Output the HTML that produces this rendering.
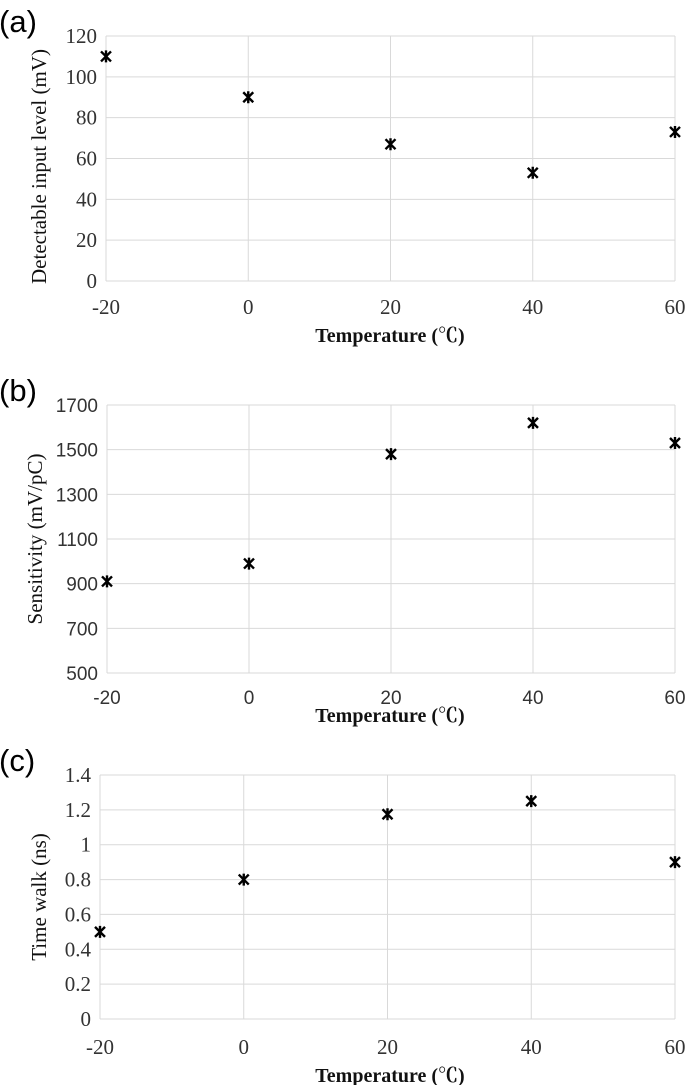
<!DOCTYPE html>
<html><head><meta charset="utf-8"><style>
body{margin:0;background:#fff;}
svg{display:block;}
.ser{font-family:"Liberation Serif","Noto Serif CJK SC",serif;}
.san{font-family:"Liberation Sans","Noto Sans CJK SC",sans-serif;}
</style></head><body>
<svg id="fig" width="685" height="1085" viewBox="0 0 685 1085" xmlns="http://www.w3.org/2000/svg"></svg>
<script>
const temps = [-20, 0, 20, 40, 60];
const xTicks = ["-20", "0", "20", "40", "60"];
const levelValues = [110, 90, 67, 53, 73];
const levelTicks = [0, 20, 40, 60, 80, 100, 120];
const sensValues = [910, 990, 1480, 1620, 1530];
const sensTicks = [500, 700, 900, 1100, 1300, 1500, 1700];
const walkValues = [0.5, 0.8, 1.175, 1.25, 0.9];
const walkTicks = [0, 0.2, 0.4, 0.6, 0.8, 1, 1.2, 1.4];

const NS = "http://www.w3.org/2000/svg";
const svg = document.getElementById("fig");
function mk(tag, attrs, parent) {
  const e = document.createElementNS(NS, tag);
  for (const k in attrs) e.setAttribute(k, attrs[k]);
  (parent || svg).appendChild(e);
  return e;
}
function panel(cfg) {
  const g = mk("g", {});
  
  
  const xs = v => cfg.l + (v - temps[0]) / (temps[temps.length-1] - temps[0]) * (cfg.r - cfg.l);
  const ymin = cfg.yt[0], ymax = cfg.yt[cfg.yt.length-1];
  const ys = v => cfg.b - (v - ymin) / (ymax - ymin) * (cfg.b - cfg.t);
  cfg.yt.forEach(v => {
    const ln = mk("line", {x1: cfg.l, x2: cfg.r, y1: ys(v), y2: ys(v), stroke: "#d9d9d9", "stroke-width": 1}, g);
    
    
    const t = mk("text", {x: cfg.l - 9, y: ys(v) + 7, "text-anchor": "end", "font-size": cfg.yFont === "san" ? 19 : 21, class: cfg.yFont, fill: "#333"}, g);
    t.textContent = String(v);
    
    
  });
  temps.forEach((v, i) => {
    const ln = mk("line", {x1: xs(v), x2: xs(v), y1: cfg.t, y2: cfg.b, stroke: "#d9d9d9", "stroke-width": 1}, g);
    
    
    const t = mk("text", {x: xs(v), y: cfg.xly, "text-anchor": "middle", "font-size": cfg.xFont === "san" ? 19 : 21, class: cfg.xFont, fill: "#333"}, g);
    t.textContent = xTicks[i];
    
    
  });
  cfg.vals.forEach((v, i) => {
    const cx = xs(temps[i]), cy = ys(v), s = 5;
    const m = mk("path", {d: `M${cx-s},${cy-s}L${cx+s},${cy+s}M${cx-s},${cy+s}L${cx+s},${cy-s}M${cx},${cy-s-1}L${cx},${cy+s+1}`, stroke: "#000", "stroke-width": 2.4, fill: "none"}, g);
    
    
  });
  const xt = mk("text", {x: 390, y: cfg.xty, "text-anchor": "middle", "font-size": 20, "font-weight": "bold", class: "ser", fill: "#111"}, g);
  xt.textContent = "Temperature (℃)";
  
  
  const yt = mk("text", {x: 0, y: 0, transform: `translate(${cfg.ytx},${(cfg.t+cfg.b)/2 + cfg.yoff}) rotate(-90)`, "text-anchor": "middle", "font-size": 21, class: "ser", fill: "#111"}, g);
  yt.textContent = cfg.ytitle;
  
  
  const pl = mk("text", {x: -1, y: cfg.t - 4, "font-size": 31, class: "san", fill: "#000"}, g);
  pl.textContent = cfg.label;
  
  
}
panel({name: "chart-a", label: "(a)", l: 106, r: 675, t: 36, b: 281, yt: levelTicks, vals: levelValues, xly: 314, xty: 342, ytx: 46, yoff: 8, ytitle: "Detectable input level (mV)", yFont: "ser", xFont: "ser"});
panel({name: "chart-b", label: "(b)", l: 107, r: 675, t: 405, b: 673, yt: sensTicks, vals: sensValues, xly: 704, xty: 722, ytx: 42, yoff: 0, ytitle: "Sensitivity (mV/pC)", yFont: "san", xFont: "san"});
panel({name: "chart-c", label: "(c)", l: 100, r: 675, t: 775, b: 1019, yt: walkTicks, vals: walkValues, xly: 1054, xty: 1082, ytx: 46, yoff: 0, ytitle: "Time walk (ns)", yFont: "ser", xFont: "ser"});
</script>
</body></html>
